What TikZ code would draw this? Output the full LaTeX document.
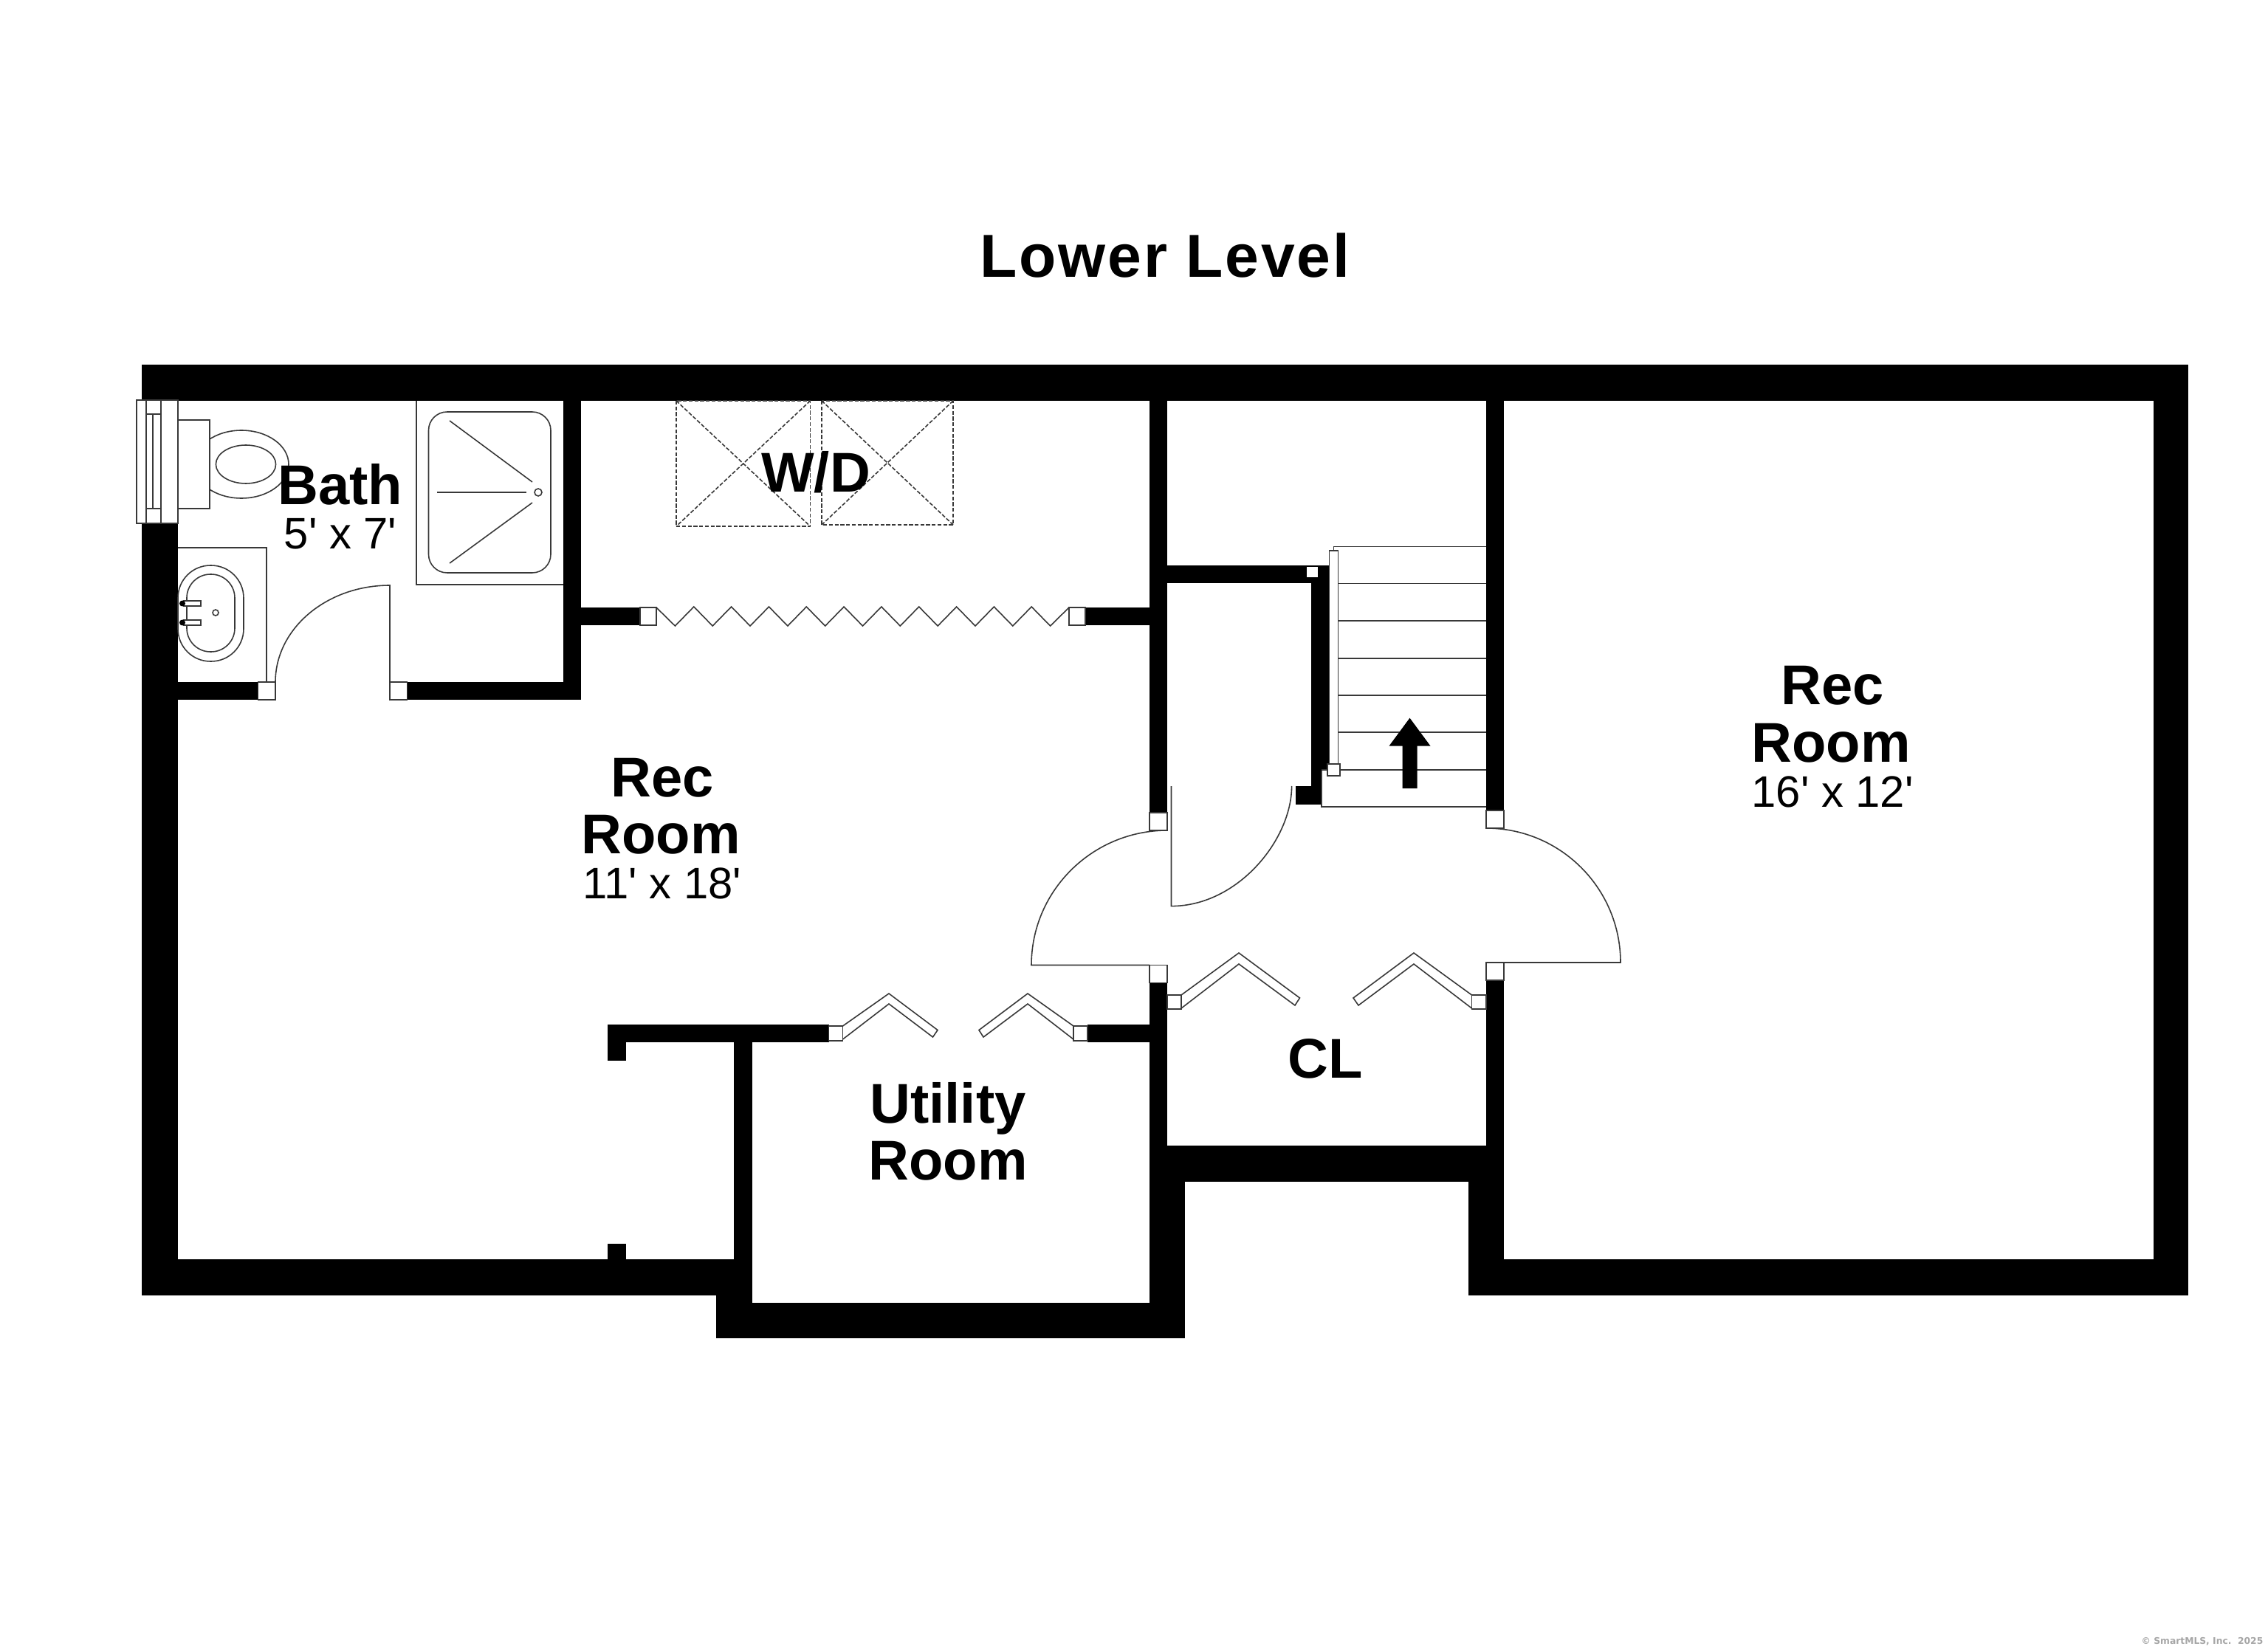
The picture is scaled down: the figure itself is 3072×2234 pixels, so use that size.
\documentclass[tikz,border=0pt]{standalone}
\usepackage{fontspec}
\setmainfont{Liberation Sans}
\newfontfamily\copyfont{DejaVu Sans}
\newfontfamily\dimfont{Liberation Sans}
\newfontfamily\titlefont[LetterSpace=3.3]{Liberation Sans}
\definecolor{linegray}{gray}{0.22}
\tikzset{
  wall/.style={fill=black,draw=none},
  thin line/.style={draw=linegray,line width=0.45pt},
  jamb/.style={draw=linegray,line width=0.45pt,fill=white},
  dashline/.style={draw=linegray,line width=0.45pt,dash pattern=on 1.5pt off 0.7pt},
  head/.style={font=\bfseries\fontsize{21.6pt}{24pt}\selectfont,anchor=base,inner sep=0pt},
  dims/.style={font=\dimfont\fontsize{17pt}{20pt}\selectfont,anchor=base,inner sep=0pt},
}
\begin{document}
\begin{tikzpicture}[x=0.01cm,y=-0.01cm]
\useasboundingbox[fill=white] (0,0) rectangle (3072,2234);
% walls
\fill[wall] (192,494) rectangle (2964,543);
\fill[wall] (192,1706) rectangle (1018.5,1755);
\fill[wall] (192,709) rectangle (241,1755);
\fill[wall] (2917,494) rectangle (2964,1755);
\fill[wall] (1989,1706) rectangle (2964,1755);
\fill[wall] (1989,1601) rectangle (2037,1755);
\fill[wall] (2013,1328) rectangle (2037,1601);
\fill[wall] (2013,543) rectangle (2037,1098);
\fill[wall] (1581,1552) rectangle (2037,1601);
\fill[wall] (1557,1331) rectangle (1581,1813);
\fill[wall] (1581,1601) rectangle (1605,1813);
\fill[wall] (970,1764.5) rectangle (1605,1813);
\fill[wall] (970,1706) rectangle (1018.5,1766);
\fill[wall] (993.5,1412) rectangle (1018.5,1706);
\fill[wall] (823,1388) rectangle (1122.5,1412);
\fill[wall] (823,1412) rectangle (848,1436.5);
\fill[wall] (823,1684.5) rectangle (848,1706);
\fill[wall] (1473,1388) rectangle (1557,1412);
\fill[wall] (1557,543) rectangle (1581,1101);
\fill[wall] (763,543) rectangle (787,948);
\fill[wall] (241,924) rectangle (349.5,948);
\fill[wall] (551.5,924) rectangle (787,948);
\fill[wall] (787,823) rectangle (867,847);
\fill[wall] (1470,823) rectangle (1557,847);
\fill[wall] (1581,766) rectangle (1800.6,790.5);
\fill[wall] (1776,790) rectangle (1800.6,1044);
\fill[wall] (1776,1044) rectangle (1790,1090);
\fill[wall] (1755,1065) rectangle (1790,1090);
% window
\draw[jamb] (185,542) rectangle (241,709);
\draw[thin line] (198,542) -- (198,709);
\draw[thin line] (218,542) -- (218,709);
\draw[thin line] (207,561) -- (207,689);
\draw[thin line] (198,561) -- (218,561);
\draw[thin line] (198,689) -- (218,689);
% toilet
\begin{scope}
\clip (284,560) rectangle (400,700);
\draw[thin line] (327,629) ellipse[x radius=64,y radius=46];
\end{scope}
\draw[thin line] (333,629) ellipse[x radius=40.6,y radius=26];
\draw[thin line] (241,569) rectangle (284,689);
% sink
\draw[thin line] (361,924) -- (361,742) -- (241,742);
\draw[thin line,rounded corners=0.44cm] (241,766) rectangle (330,896);
\draw[thin line,rounded corners=0.32cm] (253,778) rectangle (318,883);
\draw[jamb] (249,814) rectangle (272,821);
\draw[jamb] (249,840) rectangle (272,847);
\fill[black] (247,817.5) circle[radius=4];
\fill[black] (247,843.5) circle[radius=4];
\draw[thin line] (292,830) circle[radius=4];
% shower
\draw[thin line] (564,543) -- (564,792) -- (763,792);
\draw[thin line,rounded corners=0.25cm] (580.5,558) rectangle (746,776);
\draw[thin line] (609,570) -- (721,653);
\draw[thin line] (592,667) -- (713,667);
\draw[thin line] (609,763) -- (721,681);
\draw[thin line] (729,667) circle[radius=5];
% bath door
\draw[jamb] (349.5,924) rectangle (373,948);
\draw[jamb] (528,924) rectangle (551.5,948);
\draw[thin line] (528,924) -- (528,793) .. controls (442.4,793) and (373,851.6) .. (373,924);
% washer / dryer
\draw[dashline] (916,543) rectangle (1097.5,713);
\draw[dashline] (916,543) -- (1097.5,713);
\draw[dashline] (1097.5,543) -- (916,713);
\draw[dashline] (1113,543) rectangle (1291,711);
\draw[dashline] (1113,543) -- (1291,711);
\draw[dashline] (1291,543) -- (1113,711);
% accordion door
\draw[jamb] (867,823) rectangle (889,847);
\draw[jamb] (1448,823) rectangle (1470,847);
\draw[thin line] (889,823) -- (914.4,848) -- (939.8,822) -- (965.2,848) -- (990.6,822) -- (1016,848) -- (1041.5,822) -- (1066.9,848) -- (1092.3,822) -- (1117.7,848) -- (1143.1,822) -- (1168.5,848) -- (1193.9,822) -- (1219.3,848) -- (1244.7,822) -- (1270.2,848) -- (1295.6,822) -- (1321,848) -- (1346.4,822) -- (1371.8,848) -- (1397.2,822) -- (1422.6,848) -- (1448,823);
% stair
\draw[thin line] (1790,1044) -- (1790,1093) -- (2013,1093);
\draw[thin line] (1790,1043) -- (2013,1043);
\draw[thin line] (1812,992) -- (2013,992);
\draw[thin line] (1812,942) -- (2013,942);
\draw[thin line] (1812,892) -- (2013,892);
\draw[thin line] (1812,841) -- (2013,841);
\draw[thin line] (1812,790.5) -- (2013,790.5);
\draw[thin line] (1806.6,746) -- (1806.6,740.5) -- (2013,740.5);
\draw[jamb] (1800.6,746) rectangle (1812.5,1035);
\draw[jamb] (1798,1035) rectangle (1815,1051);
\fill[white] (1770,768) rectangle (1785,782.5);
\fill[black] (1909.5,972.7) -- (1937.5,1010.6) -- (1919.5,1010.6) -- (1919.5,1068) -- (1899.5,1068) -- (1899.5,1010.6) -- (1881.5,1010.6) -- cycle;
% swing doors
\draw[thin line] (1586.5,1065) -- (1586.5,1227.6) .. controls (1676.5,1227.6) and (1749.6,1137.6) .. (1749.6,1065);
\draw[jamb] (1557,1101) rectangle (1581,1125);
\draw[jamb] (1557,1307.5) rectangle (1581,1331.5);
\draw[thin line] (1581,1125) .. controls (1480,1125) and (1397,1206.5) .. (1397,1307.5) -- (1557,1307.5);
\draw[jamb] (2013,1098) rectangle (2037,1122);
\draw[jamb] (2013,1304) rectangle (2037,1328);
\draw[thin line] (2013,1122) .. controls (2113.5,1122) and (2195,1203.5) .. (2195,1304) -- (2037,1304);
% closet bifolds
\draw[jamb] (1581,1348) rectangle (1600,1367);
\draw[thin line] (1600,1348) -- (1678,1291) -- (1760.5,1352) -- (1754,1362) -- (1678,1306) -- (1600,1366);
\draw[jamb] (1993.5,1348) rectangle (2013,1367);
\draw[thin line] (1993.5,1348) -- (1915,1291) -- (1833,1352) -- (1840,1362) -- (1915,1306) -- (1993.5,1366);
% utility bifolds
\draw[jamb] (1122.5,1390) rectangle (1141.5,1410);
\draw[thin line] (1141.5,1390) -- (1204,1346) -- (1270,1395.5) -- (1263.5,1405) -- (1204,1360) -- (1141.5,1408);
\draw[jamb] (1454,1390) rectangle (1473,1410);
\draw[thin line] (1454,1390) -- (1392,1346) -- (1326,1395.5) -- (1332,1405) -- (1392,1360) -- (1454,1408);
% labels
\node[head,font=\titlefont\bfseries\fontsize{23.4pt}{26pt}\selectfont] (title) at (1578,376) {Lower Level};
\node[head] (bathname) at (461,684) {Bath};
\node[dims] (bathsize) at (461,744) {5' x 7'};
\node[head] (wd) at (1105,667) {W/D};
\node[head] (rec1a) at (897,1079) {Rec};
\node[head] (rec1b) at (895,1156) {Room};
\node[dims] (rec1size) at (897,1217) {11' x 18'};
\node[head] (rec2a) at (2482,955) {Rec};
\node[head] (rec2b) at (2480,1032) {Room};
\node[dims] (rec2size) at (2482,1093) {16' x 12'};
\node[head] (util1) at (1284,1521) {Utility};
\node[head] (util2) at (1284,1598) {Room};
\node[head] (cl) at (1795,1460) {CL};
\node[anchor=base east,inner sep=0pt,text=black!35,font=\copyfont\bfseries\fontsize{3.5pt}{4pt}\selectfont] (copy) at (3066,2227) {© SmartMLS, Inc.~~2025};
\end{tikzpicture}
\end{document}
